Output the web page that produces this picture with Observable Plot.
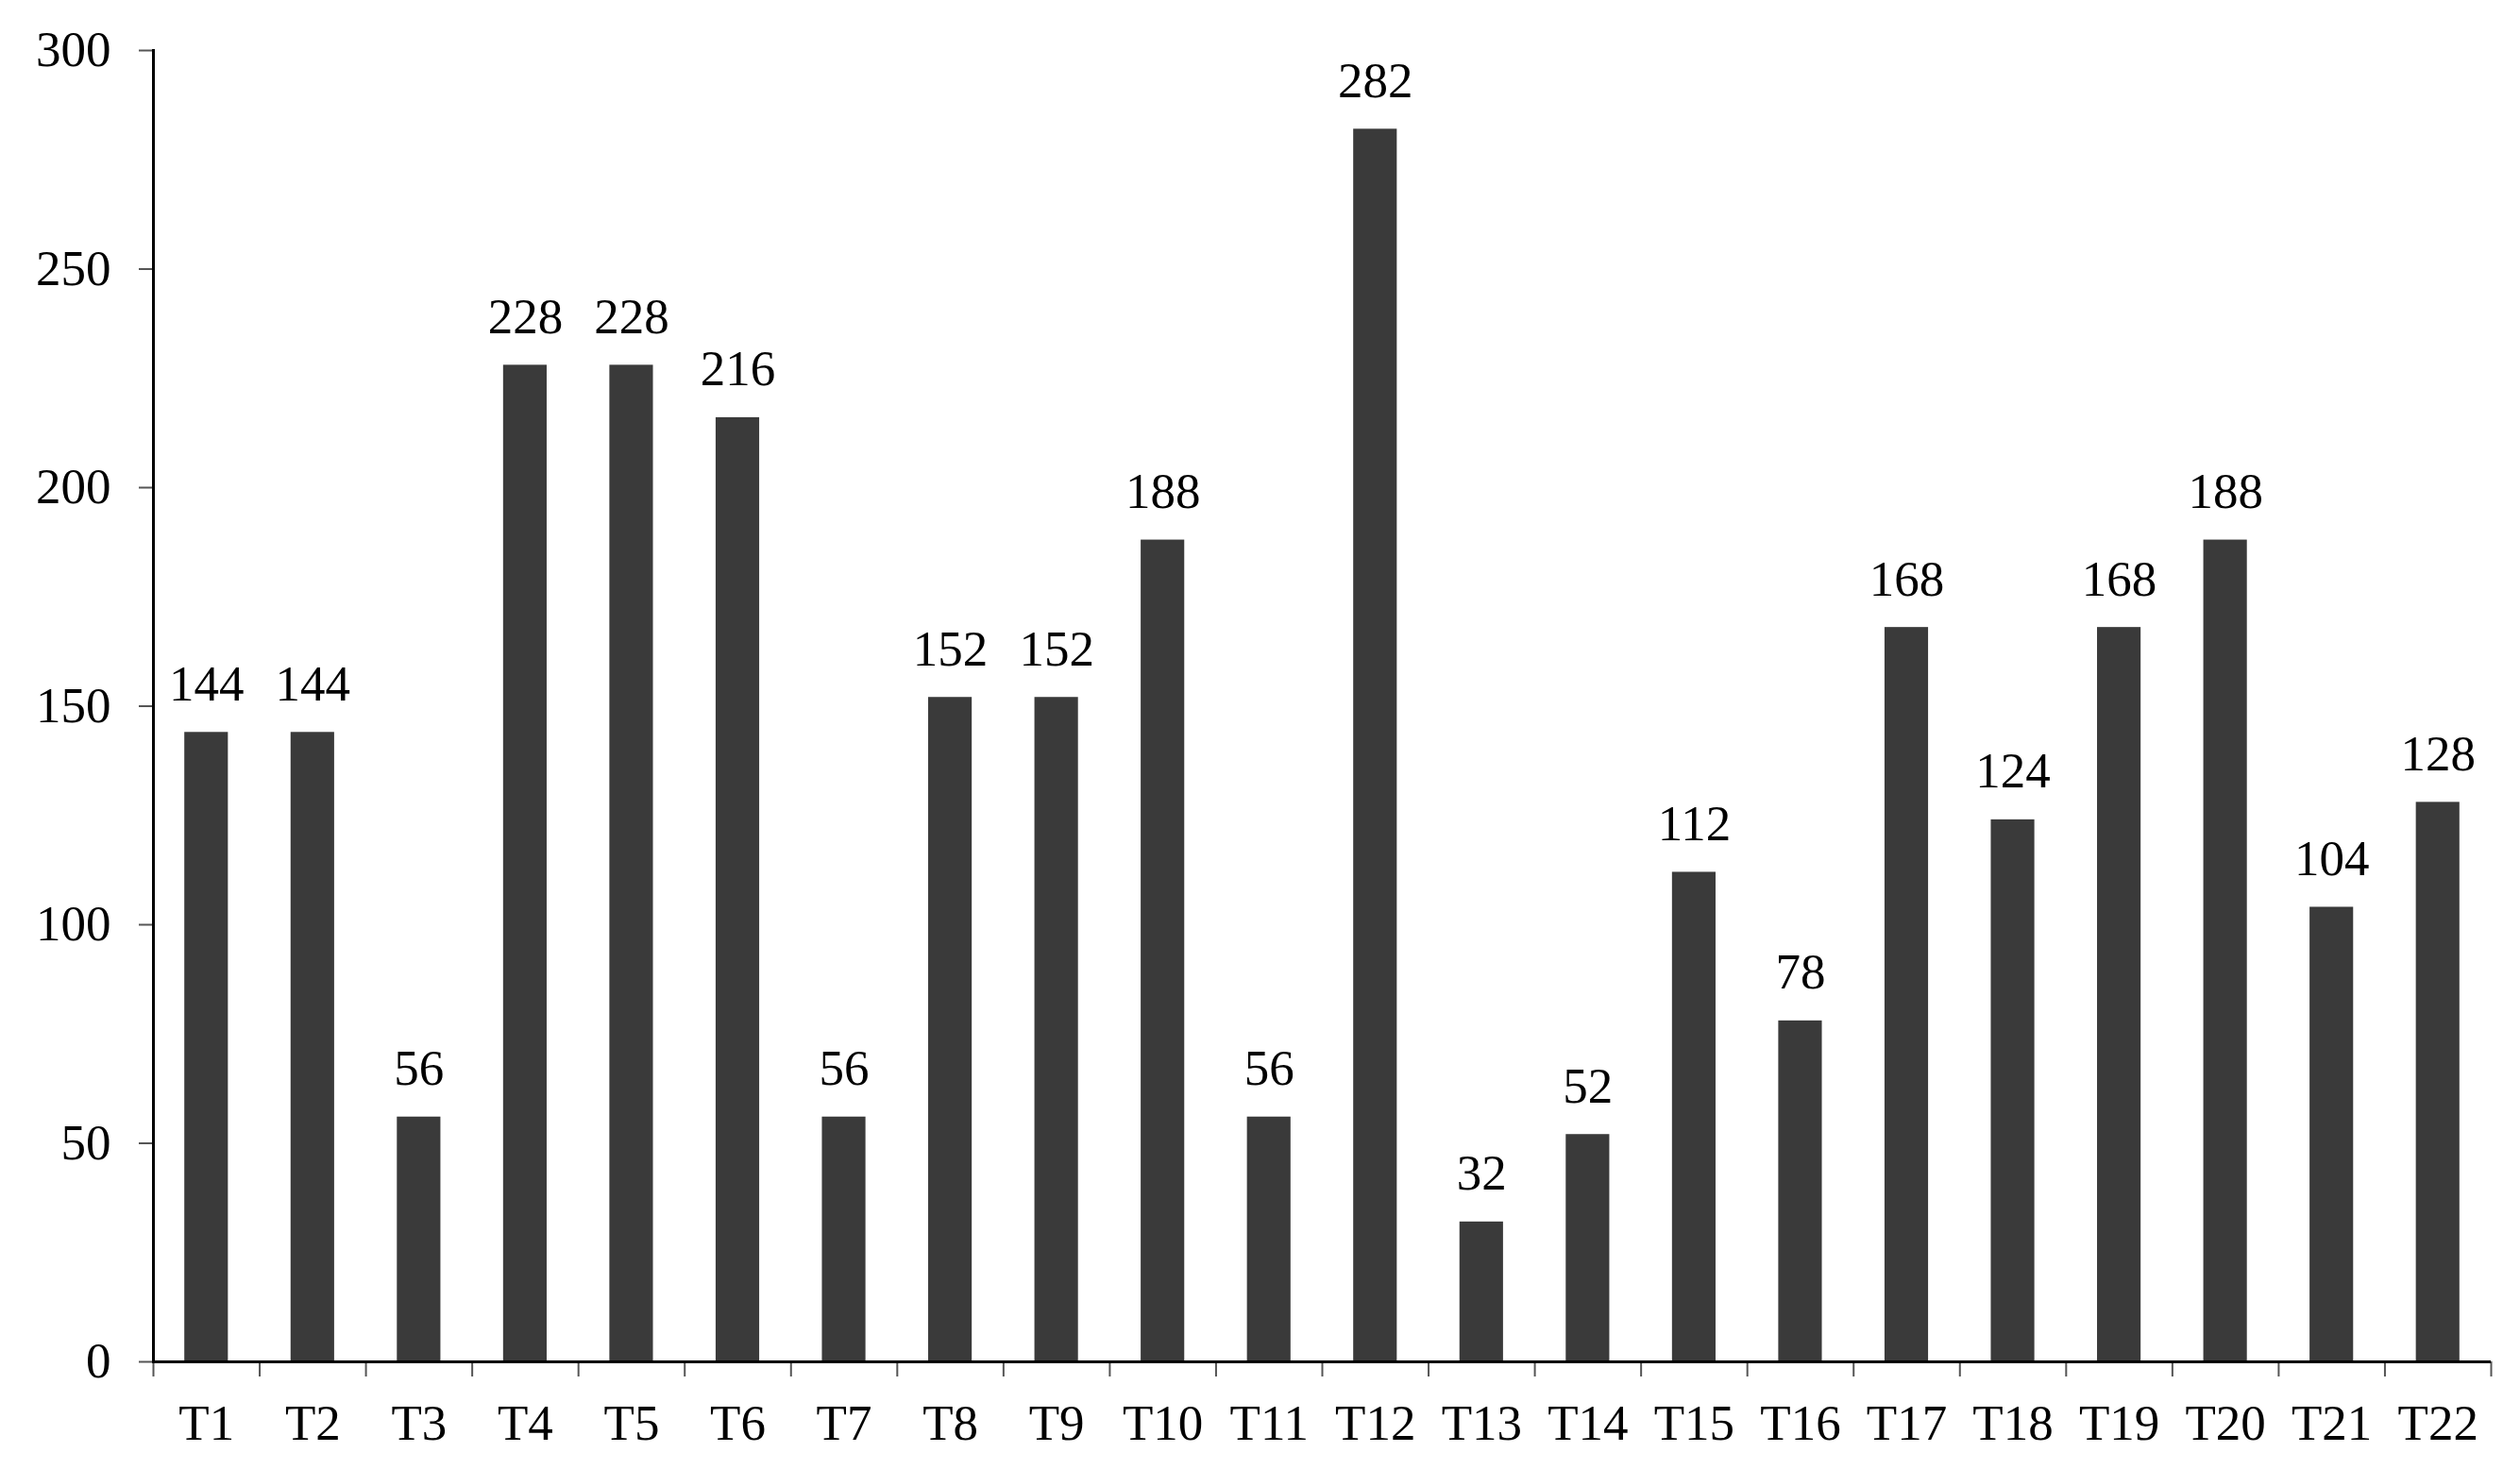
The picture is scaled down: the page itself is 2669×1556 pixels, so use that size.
<!DOCTYPE html>
<html>
<head>
<meta charset="utf-8">
<script src="https://cdn.jsdelivr.net/npm/d3@7"></script>
<script src="https://cdn.jsdelivr.net/npm/@observablehq/plot@0.6"></script>
<style>
  html, body { margin: 0; padding: 0; background: #fff; }
  #chart svg { display: block; }
</style>
</head>
<body>
<div id="chart"></div>
<script>
const categories = ["T1","T2","T3","T4","T5","T6","T7","T8","T9","T10","T11","T12","T13","T14","T15","T16","T17","T18","T19","T20","T21","T22"];
const values = [144,144,56,228,228,216,56,152,152,188,56,282,32,52,112,78,168,124,168,188,104,128];
const yTicks = [0,50,100,150,200,250,300];

const data = categories.map((c, i) => ({cat: c, value: values[i]}));

const W = 2669, H = 1556;
const mL = 162, mR = 31, mT = 53, mB = 114;
const step = (W - mL - mR) / categories.length;
const font = "'Liberation Serif', 'DejaVu Serif', serif";

const chart = Plot.plot({
  width: W,
  height: H,
  marginLeft: mL,
  marginRight: mR,
  marginTop: mT,
  marginBottom: mB,
  style: {fontFamily: font, fontSize: "53px", color: "#000", background: "#fff"},
  x: {domain: categories, paddingInner: 0.59, paddingOuter: 0.295, round: false, label: null},
  y: {domain: [0, 300], label: null},
  marks: [
    Plot.barY(data, {x: "cat", y: "value", fill: "#3a3a3a"}),
    Plot.text(data, {x: "cat", y: "value", text: d => String(d.value), lineAnchor: "bottom", dy: -34, fill: "#000", fontSize: 53}),
    Plot.axisY({ticks: yTicks, tickSize: 15, tickPadding: 30, stroke: "#555", strokeWidth: 2, label: null, fontSize: 53}),
    Plot.axisX({tickSize: 0, tickPadding: 45, label: null, fontSize: 53}),
    Plot.ruleX(categories, {x: d => d, y1: 0, y2: 0, dx: -step / 2, insetBottom: -16, stroke: "#555", strokeWidth: 2}),
    Plot.ruleX(categories.slice(-1), {x: d => d, y1: 0, y2: 0, dx: step / 2, insetBottom: -16, stroke: "#555", strokeWidth: 2}),
    Plot.frame({anchor: "left", stroke: "#000", strokeWidth: 3}),
    Plot.ruleY([0], {stroke: "#000", strokeWidth: 3})
  ]
});
document.getElementById("chart").appendChild(chart);
</script>
</body>
</html>
